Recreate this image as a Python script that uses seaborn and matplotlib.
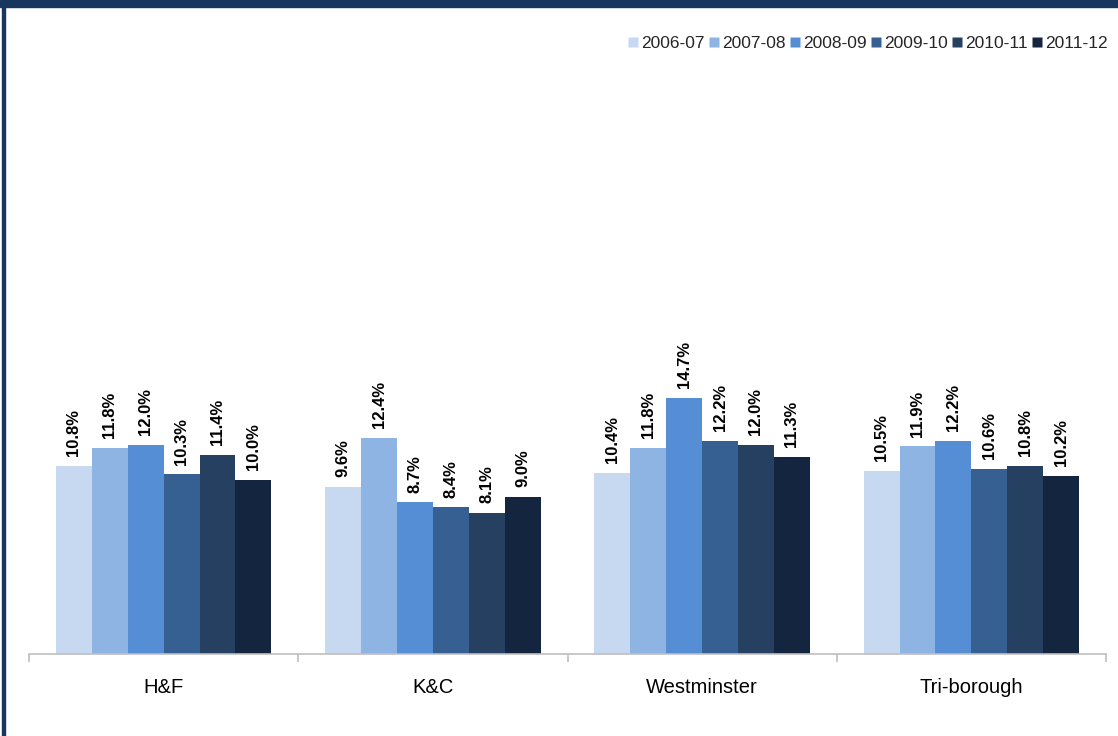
import pandas as pd
import seaborn as sns
import matplotlib.pyplot as plt
from matplotlib.patches import Rectangle
from matplotlib.lines import Line2D
from matplotlib.ticker import FixedLocator, NullFormatter

# ----------------------------
# Data
# ----------------------------
boroughs = ["H&F", "K&C", "Westminster", "Tri-borough"]
years = ["2006-07", "2007-08", "2008-09", "2009-10", "2010-11", "2011-12"]
hf = [10.8, 11.8, 12.0, 10.3, 11.4, 10.0]
kc = [9.6, 12.4, 8.7, 8.4, 8.1, 9.0]
westminster = [10.4, 11.8, 14.7, 12.2, 12.0, 11.3]
triborough = [10.5, 11.9, 12.2, 10.6, 10.8, 10.2]

colors = ["#C6D9F1", "#8EB4E3", "#558ED5", "#366092", "#254061", "#13253F"]

rows = []
for borough, vals in zip(boroughs, [hf, kc, westminster, triborough]):
    for year, v in zip(years, vals):
        rows.append({"borough": borough, "year": year, "value": v})
df = pd.DataFrame(rows)

# ----------------------------
# Style
# ----------------------------
sns.set_theme(style="white")
plt.rcParams["font.family"] = ["Liberation Sans", "DejaVu Sans"]

fig = plt.figure(figsize=(11.18, 7.36), dpi=100)
ax = fig.add_axes([29 / 1118, 82 / 736, 1077 / 1118, 628 / 736])

sns.barplot(data=df, x="borough", y="value", hue="year", palette=colors,
            order=boroughs, hue_order=years, width=0.8, saturation=1,
            edgecolor="none", linewidth=0, ax=ax)

ax.set_xlim(-0.5, 3.5)
ax.set_ylim(0, 36)
ax.set_xlabel("")
ax.set_ylabel("")
ax.set_yticks([])

# value labels
for container in ax.containers:
    ax.bar_label(container, fmt="%.1f%%", rotation=90, padding=7,
                 fontsize=12, fontweight="bold", color="black")

# axis styling
for side in ["top", "right", "left"]:
    ax.spines[side].set_visible(False)
ax.spines["bottom"].set_color("#BFBFBF")
ax.spines["bottom"].set_linewidth(1.2)
ax.tick_params(axis="x", which="major", length=0, labelsize=14.5, pad=17,
               labelcolor="black")
ax.xaxis.set_minor_locator(FixedLocator([-0.5, 0.5, 1.5, 2.5, 3.5]))
ax.xaxis.set_minor_formatter(NullFormatter())
ax.tick_params(axis="x", which="minor", bottom=True, length=6, width=1.2,
               color="#BFBFBF", direction="out")

# legend
handles = [Line2D([0], [0], marker="s", color="none", markerfacecolor=c,
                  markeredgecolor="none", markersize=6.5) for c in colors]
ax.legend(handles, years, loc="upper right", bbox_to_anchor=(1.008, 0.995),
          ncol=6, frameon=False, fontsize=12.5, handlelength=0.5,
          handletextpad=0.2, columnspacing=0.3, borderaxespad=0.0)

# frame decoration: top band and left border line
fig.patches.append(Rectangle((0, 1 - 7 / 736), 1, 7 / 736,
                             transform=fig.transFigure, color="#17375E",
                             zorder=10))
fig.patches.append(Rectangle((2 / 1118, 0), 2.5 / 1118, 1,
                             transform=fig.transFigure, color="#17375E",
                             zorder=10))

fig.savefig("out.png", dpi=100)
